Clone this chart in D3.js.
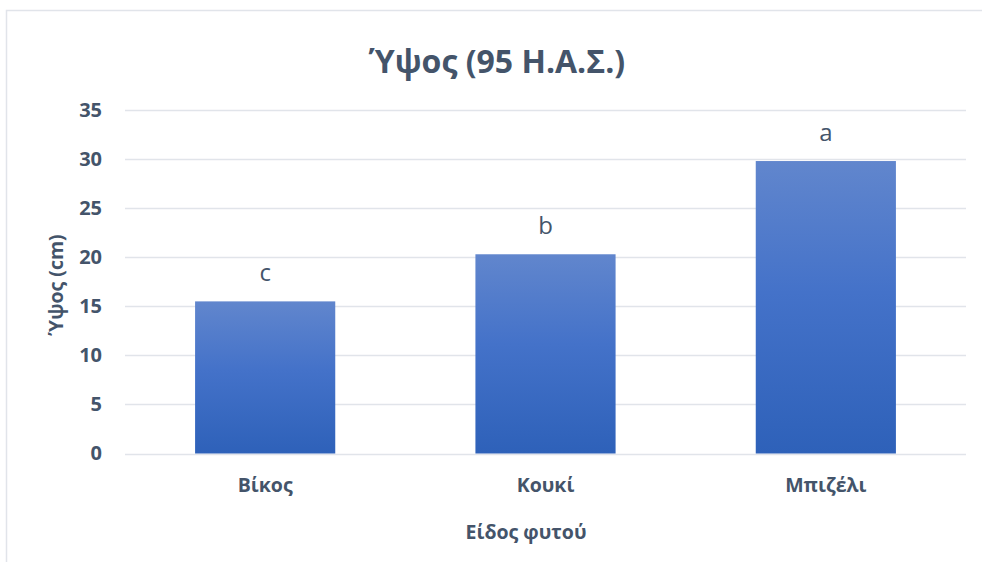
<!DOCTYPE html>
<html>
<head>
<meta charset="utf-8">
<script src="https://cdn.jsdelivr.net/npm/d3@7"></script>
<style>
  html, body { margin: 0; padding: 0; background: #fff; }
  svg { display: block; font-family: "Open Sans", "Noto Sans", sans-serif; }
</style>
</head>
<body>
<svg id="chart" width="982" height="562"></svg>
<script>
// Plant height 95 days after sowing, with significance letters
const categories = ["Βίκος", "Κουκί", "Μπιζέλι"];
const heights = [15.5, 20.3, 29.8];
const groupLetters = ["c", "b", "a"];
const yTicks = [0, 5, 10, 15, 20, 25, 30, 35];

const chartTitle = "Ύψος (95 Η.Α.Σ.)";
const xTitle = "Είδος φυτού";
const yTitle = "Ύψος (cm)";

const textColor = "#44546A";
const gridColor = "#E1E4EA";

const svg = d3.select("#chart");
const plot = { left: 125, right: 966, top: 110, bottom: 453.5 };

// chart frame
svg.append("rect")
  .attr("x", 6.5).attr("y", 10.5)
  .attr("width", 1000).attr("height", 600)
  .attr("fill", "#fff")
  .attr("stroke", "#E1E4EA").attr("stroke-width", 1.5);

const defs = svg.append("defs");
const grad = defs.append("linearGradient")
  .attr("id", "barGrad").attr("x1", 0).attr("y1", 0).attr("x2", 0).attr("y2", 1);
grad.append("stop").attr("offset", "0%").attr("stop-color", "#6186CD");
grad.append("stop").attr("offset", "45%").attr("stop-color", "#4472C9");
grad.append("stop").attr("offset", "100%").attr("stop-color", "#2E61B9");

const x = d3.scaleBand()
  .domain(categories)
  .range([plot.left, plot.right])
  .paddingInner(0.5)
  .paddingOuter(0.25);

const y = d3.scaleLinear()
  .domain([0, 35])
  .range([plot.bottom, plot.top]);

// gridlines
svg.append("g")
  .selectAll("line")
  .data(yTicks)
  .join("line")
  .attr("x1", plot.left).attr("x2", plot.right)
  .attr("y1", d => Math.round(y(d)) + 0.5)
  .attr("y2", d => Math.round(y(d)) + 0.5)
  .attr("stroke", gridColor).attr("stroke-width", 1.5);

// y axis labels
const yAxis = d3.axisLeft(y).tickValues(yTicks).tickSize(0).tickPadding(0);
const yAxisG = svg.append("g")
  .attr("transform", `translate(${102},0)`)
  .call(yAxis);
yAxisG.select(".domain").remove();
yAxisG.selectAll("text")
  .attr("fill", textColor)
  .attr("font-size", 20)
  .attr("font-weight", 700)
  .attr("font-family", "Open Sans, sans-serif");

// bars
const data = categories.map((c, i) => ({ c, v: heights[i], letter: groupLetters[i] }));
svg.append("g")
  .selectAll("rect")
  .data(data)
  .join("rect")
  .attr("x", d => x(d.c))
  .attr("width", x.bandwidth())
  .attr("y", d => y(d.v))
  .attr("height", d => y(0) - y(d.v))
  .attr("fill", "url(#barGrad)");

// significance letters
svg.append("g")
  .selectAll("text")
  .data(data)
  .join("text")
  .attr("x", d => x(d.c) + x.bandwidth() / 2)
  .attr("y", d => y(d.v) - 20)
  .attr("text-anchor", "middle")
  .attr("fill", textColor)
  .attr("font-size", 24)
  .text(d => d.letter);

// x axis labels
const xAxis = d3.axisBottom(x).tickSize(0).tickPadding(0);
const xAxisG = svg.append("g")
  .attr("transform", `translate(0,${plot.bottom})`)
  .call(xAxis);
xAxisG.select(".domain").remove();
xAxisG.selectAll("text")
  .attr("dy", null)
  .attr("y", 38)
  .attr("fill", textColor)
  .attr("font-size", 19.5)
  .attr("font-weight", 700)
  .attr("font-family", "Open Sans, sans-serif");

// titles
svg.append("text")
  .attr("x", 497).attr("y", 73)
  .attr("text-anchor", "middle")
  .attr("fill", textColor)
  .attr("font-size", 32)
  .attr("font-weight", 700)
  .text(chartTitle);

svg.append("text")
  .attr("x", 526).attr("y", 539)
  .attr("text-anchor", "middle")
  .attr("fill", textColor)
  .attr("font-size", 19.5)
  .attr("font-weight", 700)
  .text(xTitle);

svg.append("text")
  .attr("transform", `translate(63,285) rotate(-90)`)
  .attr("text-anchor", "middle")
  .attr("fill", textColor)
  .attr("font-size", 19.5)
  .attr("font-weight", 700)
  .text(yTitle);
</script>
</body>
</html>
